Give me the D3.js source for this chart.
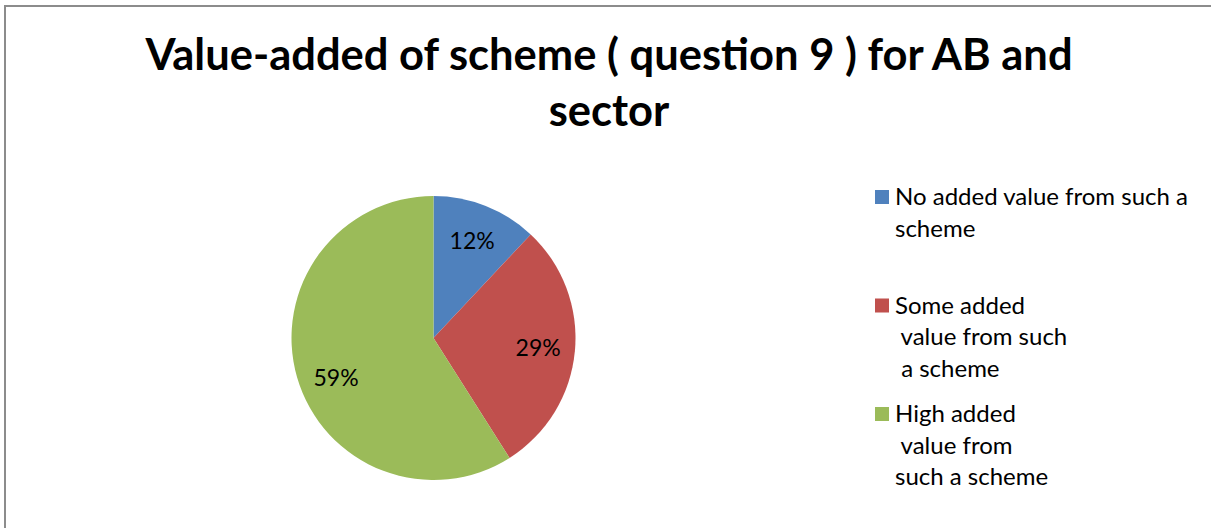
<!DOCTYPE html>
<html>
<head>
<meta charset="utf-8">
<script src="https://cdn.jsdelivr.net/npm/d3@7"></script>
<style>
  html, body { margin: 0; padding: 0; background: #ffffff; }
  svg { display: block; }
  text { font-family: Lato, "Open Sans", sans-serif; fill: #000; }
</style>
</head>
<body>
<svg id="chart" width="1211" height="528"></svg>
<script>
// Survey answers to question 9 (share of respondents)
const categories = [
  "No added value from such a scheme",
  "Some added value from such a scheme",
  "High added value from such a scheme"
];
const values = [12, 29, 59];
// Legend text as wrapped in the chart legend
const legendLines = [
  ["No added value from such a", "scheme"],
  ["Some added", " value from such", " a scheme"],
  ["High added", " value from", "such a scheme"]
];
const titleLines = ["Value-added of scheme ( question 9 ) for AB and", "sector"];
const colors = ["#4F81BD", "#C0504D", "#9BBB59"];

const W = 1211, H = 528;
const svg = d3.select("#chart");

// chart area frame (runs past the right and bottom edges)
svg.append("rect")
  .attr("x", 5).attr("y", 6)
  .attr("width", W + 10).attr("height", H + 10)
  .attr("fill", "#fff")
  .attr("stroke", "#8c8c8c")
  .attr("stroke-width", 2);

// title
svg.append("g").selectAll("text")
  .data(titleLines)
  .join("text")
  .attr("x", 609)
  .attr("y", (d, i) => 70 + i * 56)
  .attr("text-anchor", "middle")
  .attr("font-size", 43.5)
  .attr("font-weight", "bold")
  .text(d => d);

// pie
const cx = 433.5, cy = 338, R = 142;
const color = d3.scaleOrdinal().domain(categories).range(colors);
const pie = d3.pie().sort(null).value(d => d.value);
const arcs = pie(categories.map((c, i) => ({ name: c, value: values[i] })));
const arc = d3.arc().innerRadius(0).outerRadius(R);
const labelArc = d3.arc().innerRadius(R * 0.74).outerRadius(R * 0.74);

const g = svg.append("g").attr("transform", `translate(${cx},${cy})`);
g.selectAll("path")
  .data(arcs)
  .join("path")
  .attr("d", arc)
  .attr("fill", d => color(d.data.name));

// the large slice's label sits a little lower, toward the slice's lower half
const labelPos = d => {
  const shift = d.index === 2 ? -0.1 : 0;
  const a = (d.startAngle + d.endAngle) / 2 + shift;
  return labelArc.centroid({ startAngle: a, endAngle: a });
};

const total = d3.sum(values);
g.selectAll("text")
  .data(arcs)
  .join("text")
  .attr("transform", d => `translate(${labelPos(d)})`)
  .attr("text-anchor", "middle")
  .attr("dy", "0.36em")
  .attr("font-size", 23)
  .attr("fill", "#000")
  .text(d => Math.round(d.data.value / total * 100) + "%");

// legend
const legend = svg.append("g").attr("transform", "translate(875,205)");
const item = legend.selectAll("g")
  .data(categories)
  .join("g")
  .attr("transform", (d, i) => `translate(0,${i * 108.5})`);
item.append("rect")
  .attr("x", 0).attr("y", -15)
  .attr("width", 14).attr("height", 14)
  .attr("fill", d => color(d));
item.append("text")
  .attr("font-size", 24)
  .attr("xml:space", "preserve")
  .style("white-space", "pre")
  .selectAll("tspan")
  .data((d, i) => legendLines[i])
  .join("tspan")
  .attr("x", 20)
  .attr("y", (d, j) => j * 31.5)
  .text(d => d);
</script>
</body>
</html>
